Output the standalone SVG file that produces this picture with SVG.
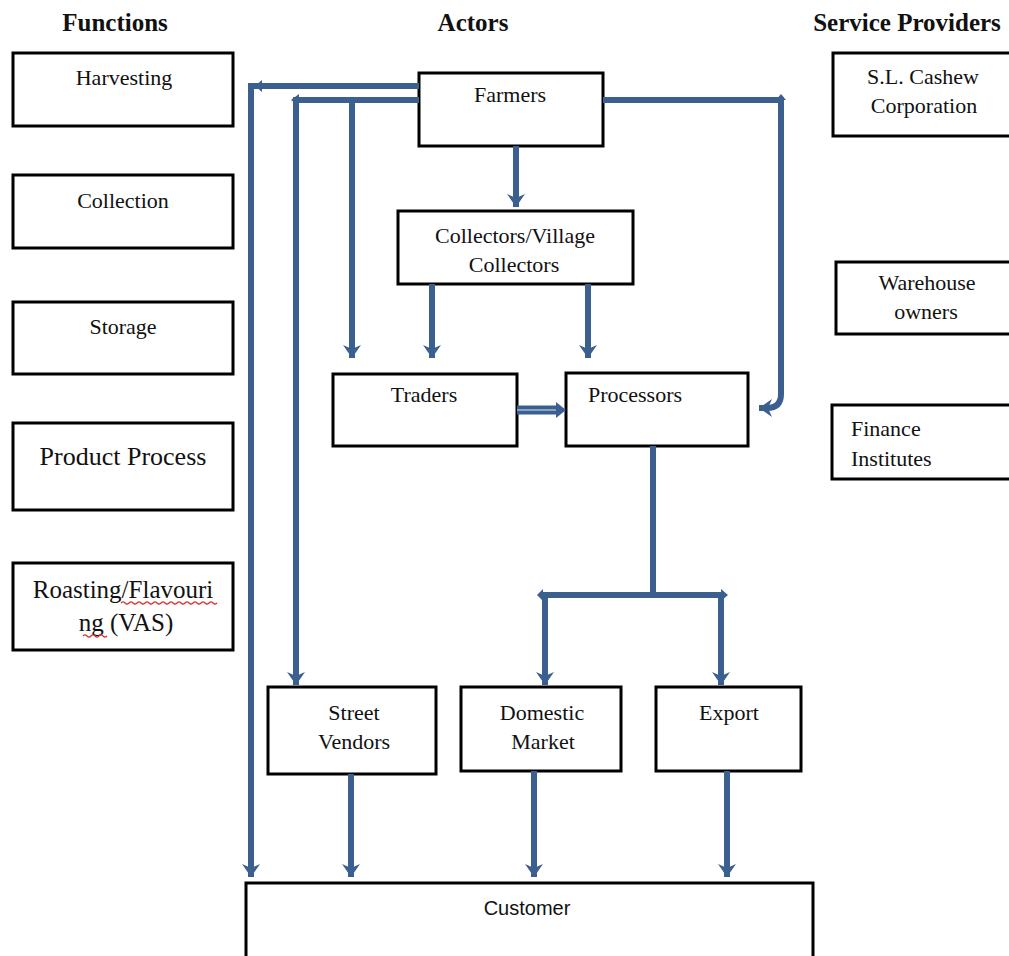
<svg xmlns="http://www.w3.org/2000/svg" width="1009" height="956" viewBox="0 0 1009 956">
  <style>
    .box { fill: #ffffff; stroke: #000000; stroke-width: 3; }
    .lbl { font-family: "Liberation Serif", "Times New Roman", serif; font-size: 22px; fill: #111111; }
    .hdr { font-family: "Liberation Serif", "Times New Roman", serif; font-size: 25px; font-weight: bold; fill: #111111; }
    .sans { font-family: "Liberation Sans", Arial, sans-serif; font-size: 20px; fill: #111111; }
    .link { fill: none; stroke: #3b5f8f; stroke-width: 6; stroke-linejoin: miter; }
    .nub { fill: #3b5f8f; }
    .squig { fill: none; stroke: #e03030; stroke-width: 1.2; }
  </style>
  <defs>
    <marker id="head" markerUnits="userSpaceOnUse" markerWidth="20" markerHeight="18" viewBox="0 0 20 18" refX="13" refY="9" orient="auto">
      <path d="M0,0 L13,9 L0,18 L4,9 Z" fill="#3b5f8f"/>
    </marker>
  </defs>

  <rect width="1009" height="956" fill="#ffffff"/>

  <!-- column headings -->
  <g id="headings">
    <text class="hdr" x="115" y="31" text-anchor="middle">Functions</text>
    <text class="hdr" x="473" y="31" text-anchor="middle">Actors</text>
    <text class="hdr" x="907" y="31" text-anchor="middle">Service Providers</text>
  </g>

  <!-- functions column -->
  <g id="harvesting">
    <rect class="box" x="13" y="53" width="220" height="73"/>
    <text class="lbl" x="124" y="85" text-anchor="middle">Harvesting</text>
  </g>
  <g id="collection">
    <rect class="box" x="13" y="175" width="220" height="73"/>
    <text class="lbl" x="123" y="208" text-anchor="middle">Collection</text>
  </g>
  <g id="storage">
    <rect class="box" x="13" y="302" width="220" height="72"/>
    <text class="lbl" x="123" y="334" text-anchor="middle">Storage</text>
  </g>
  <g id="product-process">
    <rect class="box" x="13" y="423" width="220" height="87"/>
    <text class="lbl" x="123" y="465" text-anchor="middle" style="font-size:26px">Product Process</text>
  </g>
  <g id="roasting">
    <rect class="box" x="13" y="563" width="220" height="87"/>
    <text class="lbl" x="123" y="598" text-anchor="middle" style="font-size:25px">Roasting/Flavouri</text>
    <text class="lbl" x="126" y="631" text-anchor="middle" style="font-size:25px">ng (VAS)</text>
    <path class="squig" d="M121,603 q2,-2 4,0 t4,0 t4,0 t4,0 t4,0 t4,0 t4,0 t4,0 t4,0 t4,0 t4,0 t4,0 t4,0 t4,0 t4,0 t4,0 t4,0 t4,0 t4,0 t4,0 t4,0 t4,0 t4,0 t4,0"/>
    <path class="squig" d="M83,636 q2,-2 4,0 t4,0 t4,0 t4,0 t4,0 t4,0"/>
  </g>

  <!-- actors -->
  <g id="farmers">
    <rect class="box" x="419" y="73" width="184" height="73"/>
    <text class="lbl" x="510" y="102" text-anchor="middle">Farmers</text>
  </g>
  <g id="collectors">
    <rect class="box" x="398" y="211" width="235" height="73"/>
    <text class="lbl" x="515" y="243" text-anchor="middle">Collectors/Village</text>
    <text class="lbl" x="514" y="272" text-anchor="middle">Collectors</text>
  </g>
  <g id="traders">
    <rect class="box" x="333" y="374" width="184" height="72"/>
    <text class="lbl" x="424" y="402" text-anchor="middle">Traders</text>
  </g>
  <g id="processors">
    <rect class="box" x="566" y="373" width="182" height="73"/>
    <text class="lbl" x="635" y="402" text-anchor="middle">Processors</text>
  </g>
  <g id="street-vendors">
    <rect class="box" x="268" y="687" width="168" height="87"/>
    <text class="lbl" x="354" y="720" text-anchor="middle">Street</text>
    <text class="lbl" x="354" y="749" text-anchor="middle">Vendors</text>
  </g>
  <g id="domestic-market">
    <rect class="box" x="461" y="687" width="160" height="84"/>
    <text class="lbl" x="542" y="720" text-anchor="middle">Domestic</text>
    <text class="lbl" x="543" y="749" text-anchor="middle">Market</text>
  </g>
  <g id="export">
    <rect class="box" x="656" y="687" width="145" height="84"/>
    <text class="lbl" x="729" y="720" text-anchor="middle">Export</text>
  </g>
  <g id="customer">
    <rect class="box" x="246" y="883" width="567" height="76"/>
    <text class="sans" x="527" y="915" text-anchor="middle">Customer</text>
  </g>

  <!-- service providers -->
  <g id="cashew-corporation">
    <rect class="box" x="833" y="53" width="180" height="83"/>
    <text class="lbl" x="923" y="84" text-anchor="middle">S.L. Cashew</text>
    <text class="lbl" x="924" y="113" text-anchor="middle">Corporation</text>
  </g>
  <g id="warehouse-owners">
    <rect class="box" x="836" y="262" width="177" height="72"/>
    <text class="lbl" x="927" y="290" text-anchor="middle">Warehouse</text>
    <text class="lbl" x="926" y="319" text-anchor="middle">owners</text>
  </g>
  <g id="finance-institutes">
    <rect class="box" x="832" y="405" width="181" height="74"/>
    <text class="lbl" x="851" y="436">Finance</text>
    <text class="lbl" x="851" y="466">Institutes</text>
  </g>

  <!-- connectors -->
  <g id="connectors">
    <!-- farmers straight to customer -->
    <path class="link" d="M419,86 H251 V877" marker-end="url(#head)"/>
    <path class="nub" d="M262,80 L255,86 L262,92 Z"/>
    <!-- farmers to street vendors -->
    <path class="link" d="M419,100 H296 V685" marker-end="url(#head)"/>
    <path class="nub" d="M299,94 L291,100 L299,106 Z"/>
    <!-- farmers to traders -->
    <path class="link" d="M352,100 V358" marker-end="url(#head)"/>
    <!-- farmers to collectors -->
    <path class="link" d="M516,146 V207" marker-end="url(#head)"/>
    <!-- collectors to traders / processors -->
    <path class="link" d="M432,284 V358" marker-end="url(#head)"/>
    <path class="link" d="M588,284 V358" marker-end="url(#head)"/>
    <!-- traders to processors -->
    <path d="M517,410 H559" fill="none" stroke="#3b5f8f" stroke-width="9"/>
    <path d="M517,410 H556" fill="none" stroke="#8aa2c4" stroke-width="2"/>
    <path d="M556,402 L566,410 L556,418 Z" fill="#3b5f8f"/>
    <!-- farmers round to processors -->
    <path class="link" d="M603,100 H781 V394 Q781,408 767,408 H759" marker-end="url(#head)"/>
    <path class="nub" d="M776,100 L781,94 L786,100 Z"/>
    <!-- processors split to markets -->
    <path class="link" d="M653,446 V595"/>
    <path class="link" d="M541,595 H724"/>
    <path class="nub" d="M543,589 L537,595 L543,601 Z"/>
    <path class="nub" d="M721,589 L728,595 L721,601 Z"/>
    <path class="link" d="M545,595 V685" marker-end="url(#head)"/>
    <path class="link" d="M721,595 V685" marker-end="url(#head)"/>
    <!-- outlets to customer -->
    <path class="link" d="M351,774 V877" marker-end="url(#head)"/>
    <path class="link" d="M534,771 V877" marker-end="url(#head)"/>
    <path class="link" d="M727,771 V877" marker-end="url(#head)"/>
  </g>
</svg>
